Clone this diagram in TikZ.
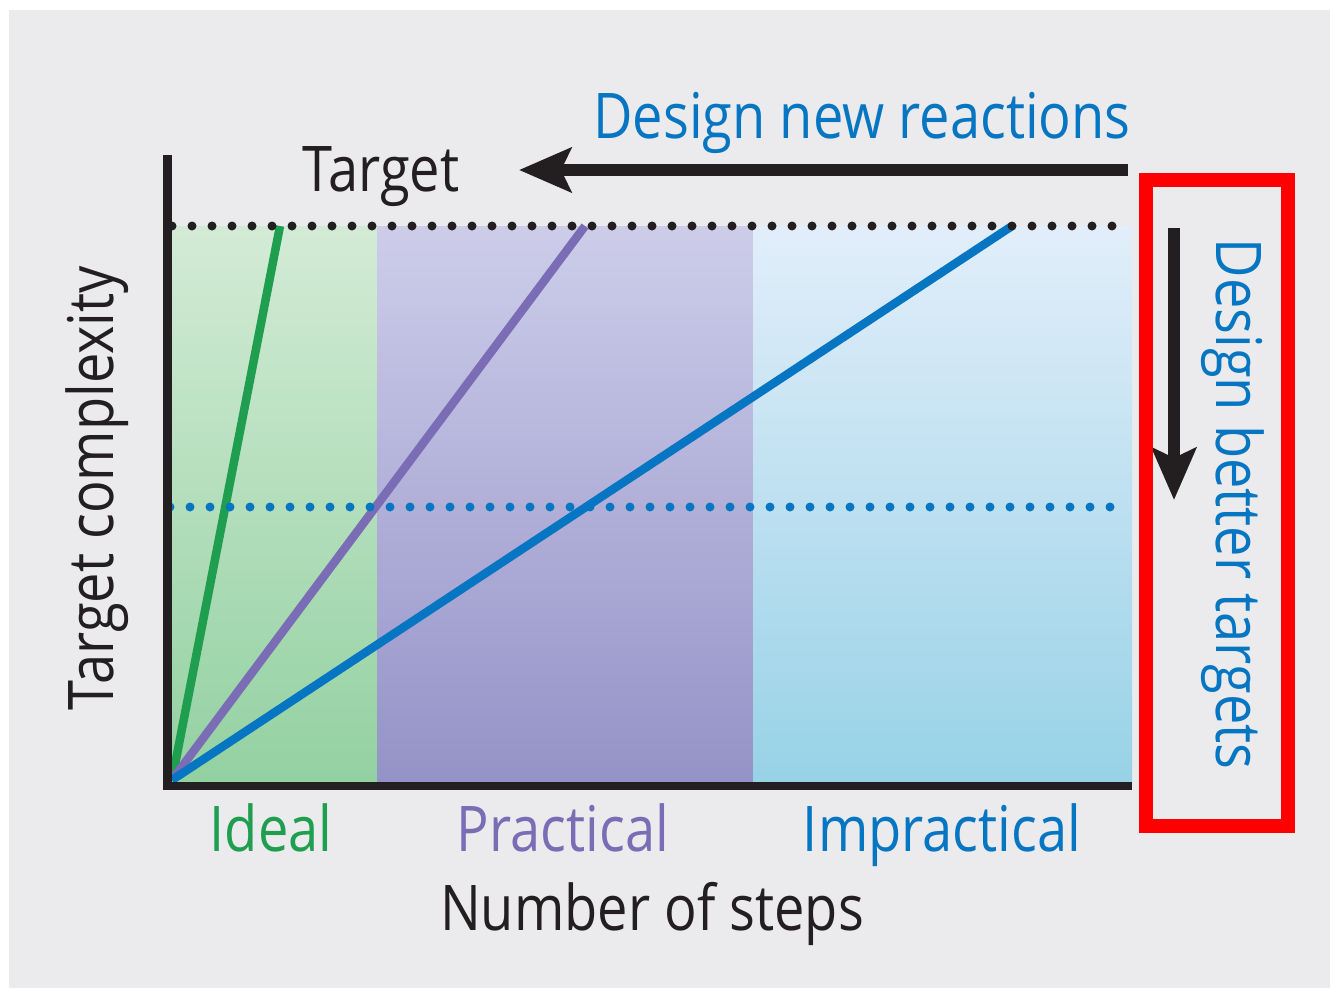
\documentclass[tikz,border=0pt]{standalone}
\usepackage{fontspec}
\setmainfont{Open Sans}[FakeStretch=0.86]
\usetikzlibrary{arrows.meta}
\definecolor{bgc}{HTML}{EBEBED}
\definecolor{gtop}{HTML}{D3EBD6}
\definecolor{gbot}{HTML}{93D1A1}
\definecolor{ptop}{HTML}{CDCDEA}
\definecolor{pbot}{HTML}{9592C7}
\definecolor{btop}{HTML}{E2EEFA}
\definecolor{bbot}{HTML}{98D2E7}
\definecolor{gline}{HTML}{1F9E4F}
\definecolor{pline}{HTML}{7A6DB5}
\definecolor{bline}{HTML}{0676C2}
\definecolor{axc}{HTML}{231F20}
\definecolor{redc}{HTML}{FF0000}
\tikzset{
  lbl/.style={inner sep=0pt, font=\fontsize{63}{70}\selectfont},
  ratio/.style={line width=8.5pt},
  dotline/.style={line width=9pt, line cap=round, dash pattern=on 0pt off 20pt},
  bigarrow/.style={line width=12pt, color=axc, -{Stealth[length=52pt,width=44pt,inset=10pt]}},
}
\begin{document}
\begin{tikzpicture}[x=1pt,y=-1pt]
\useasboundingbox (0,0) rectangle (1330,988);
\fill[white] (0,0) rectangle (1330,988);
\fill[bgc] (9,10) rectangle (1330,988);
% regions
\shade[top color=gtop, bottom color=gbot] (172,226) rectangle (377,782);
\shade[top color=ptop, bottom color=pbot] (377,226) rectangle (753,782);
\shade[top color=btop, bottom color=bbot] (753,226) rectangle (1132,782);
% coordinates
\coordinate (o) at (172,780);
\coordinate (gend) at (280,226);
\coordinate (pend) at (585,226);
\coordinate (bend) at (1012,226);
\draw[ratio, gline] (o) -- (gend);
\draw[ratio, pline] (o) -- (pend);
\draw[ratio, bline] (o) -- (bend);
% dotted lines
\coordinate (tl) at (172,226);
\coordinate (tr) at (1128,226);
\coordinate (ml) at (170,507);
\coordinate (mr) at (1115,507);
\draw[dotline, axc] (tl) -- (tr);
\draw[dotline, bline] (ml) -- (mr);
% axes
\coordinate (ytop) at (167.5,155);
\coordinate (corner) at (167.5,786);
\coordinate (cornerx) at (163.25,786);
\coordinate (xend) at (1132,786);
\draw[line width=8.5pt, axc] (ytop) -- (corner);
\draw[line width=8.5pt, axc] (cornerx) -- (xend);
% texts
\node[lbl, anchor=base, text=axc] (target) at (381,191) {Target};
\node[lbl, anchor=base, text=bline] (dnr) at (862,138) {Design new reactions};
\node[lbl, anchor=base, text=gline] (ideal) at (271,851) {Ideal};
\node[lbl, anchor=base, text=pline] (pract) at (563,851) {Practical};
\node[lbl, anchor=base, text=bline] (impract) at (942,851) {Impractical};
\node[lbl, anchor=base, text=axc] (nsteps) at (652,930) {Number of steps};
\node[lbl, anchor=base, text=axc, rotate=90] (tcx) at (113,488) {Target complexity};
\node[lbl, anchor=base, text=bline, rotate=-90] (dbt) at (1216,504) {Design better targets};
% arrows
\coordinate (ha) at (1128,170);
\coordinate (hb) at (519,170);
\draw[bigarrow] (ha) -- (hb);
\coordinate (va) at (1174,228);
\coordinate (vb) at (1174,500);
\draw[bigarrow] (va) -- (vb);
% red box
\draw[line width=14pt, redc] (1146,180) rectangle (1288,826);
\end{tikzpicture}
\end{document}
